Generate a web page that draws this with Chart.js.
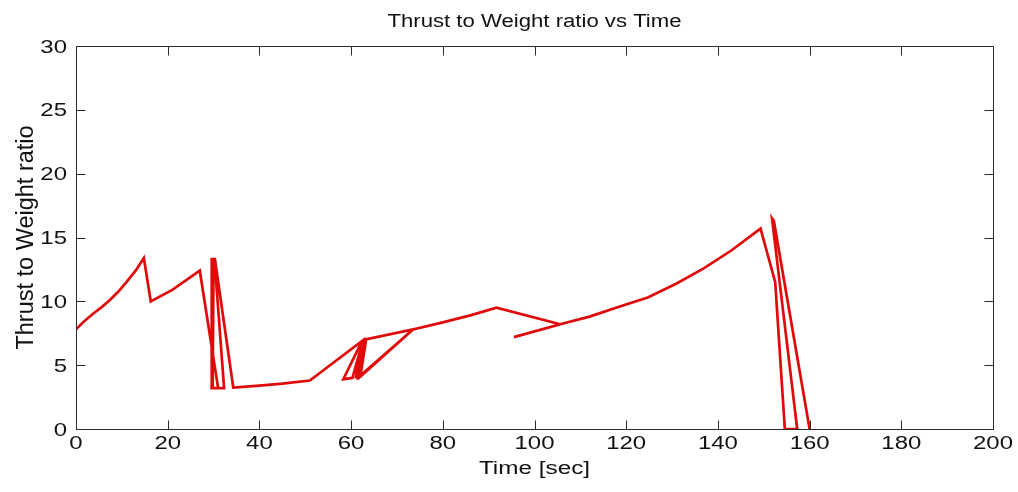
<!DOCTYPE html>
<html>
<head>
<meta charset="utf-8">
<title>Thrust to Weight ratio vs Time</title>
<script src="https://cdn.jsdelivr.net/npm/chart.js@4.4.1/dist/chart.umd.min.js"></script>
<style>
  html, body { margin: 0; padding: 0; background: #ffffff; }
  #wrap { width: 1018px; height: 492px; }
  canvas { display: block; }
</style>
</head>
<body>
<div id="wrap"><canvas id="twr" width="1018" height="492"></canvas></div>
<script>
// Flight trace: time (s) and thrust-to-weight ratio, in logged order
// (the time stamp steps back at staging events, so the trace folds over itself).
const timeSec = [
  0, 1.8, 3.8, 5.6, 7.4, 9.2, 11.0, 13.0, 14.8, 16.3, 21.0, 27.0,
  31.0, 29.6, 29.6, 30.2, 32.3, 29.8, 30.0, 30.3, 34.3, 40.0, 45.0, 51.0,
  62.4, 58.3, 60.3, 62.6, 61.0, 62.9, 73.5, 61.6, 63.3, 62.0, 73.5,
  80.0, 86.0, 91.7,
  105.6, 95.5, 105.6, 112.0, 118.6, 124.7, 131.0, 137.0, 143.0, 149.3,
  152.5, 154.6, 157.3, 151.8, 152.2, 160.0
];
const thrustToWeight = [
  7.8, 8.45, 9.05, 9.55, 10.1, 10.75, 11.5, 12.4, 13.4, 10.0, 10.9, 12.4,
  3.2, 3.2, 13.3, 13.3, 3.2, 3.2, 13.3, 13.3, 3.25, 3.4, 3.55, 3.8,
  6.9, 3.9, 4.0, 6.95, 3.95, 7.0, 7.8, 4.05, 7.05, 4.1, 7.8,
  8.35, 8.9, 9.5,
  8.2, 7.2, 8.2, 8.8, 9.6, 10.3, 11.4, 12.6, 14.0, 15.7,
  11.5, 0, 0, 16.5, 16.3, 0
];
const xTicks = [0, 20, 40, 60, 80, 100, 120, 140, 160, 180, 200];
const yTicks = [0, 5, 10, 15, 20, 25, 30];

const chartTitle = 'Thrust to Weight ratio vs Time';
const xTitle = 'Time [sec]';
const yTitle = 'Thrust to Weight ratio';

const FONT = '"Liberation Sans", Arial, Helvetica, sans-serif';
const INK = '#111111';

// Draw text stretched horizontally by sx around its anchor.
function wideText(ctx, txt, x, y, size, sx, align) {
  ctx.save();
  ctx.font = size + 'px ' + FONT;
  ctx.fillStyle = INK;
  ctx.textBaseline = 'alphabetic';
  ctx.translate(x, y);
  ctx.scale(sx, 1);
  ctx.textAlign = align;
  ctx.fillText(txt, 0, 0);
  ctx.restore();
}

// Boxed axes with inward ticks on all four sides, plus tick labels and titles.
const boxAxes = {
  id: 'boxAxes',
  afterDraw(chart) {
    const ctx = chart.ctx;
    const a = chart.chartArea;
    const xs = chart.scales.x, ys = chart.scales.y;
    const L = Math.round(a.left) + 0.5, R = Math.round(a.right) + 0.5;
    const T = Math.round(a.top) + 0.5, B = Math.round(a.bottom) + 0.5;
    const tick = 9;

    ctx.save();
    ctx.strokeStyle = '#2a2a2a';
    ctx.lineWidth = 1;
    ctx.beginPath();
    ctx.rect(L, T, R - L, B - T);
    xTicks.forEach(v => {
      const px = Math.round(xs.getPixelForValue(v)) + 0.5;
      ctx.moveTo(px, B); ctx.lineTo(px, B - tick);
      ctx.moveTo(px, T); ctx.lineTo(px, T + tick);
    });
    yTicks.forEach(v => {
      const py = Math.round(ys.getPixelForValue(v)) + 0.5;
      ctx.moveTo(L, py); ctx.lineTo(L + tick, py);
      ctx.moveTo(R, py); ctx.lineTo(R - tick, py);
    });
    ctx.stroke();
    ctx.restore();

    // tick labels
    xTicks.forEach(v => {
      wideText(ctx, String(v), xs.getPixelForValue(v), a.bottom + 20, 18, 1.33, 'center');
    });
    yTicks.forEach(v => {
      wideText(ctx, String(v), a.left - 9, ys.getPixelForValue(v) + 6.5, 18, 1.33, 'right');
    });

    // titles
    const cx = (a.left + a.right) / 2;
    wideText(ctx, chartTitle, cx, 27, 18, 1.23, 'center');
    wideText(ctx, xTitle, cx, a.bottom + 45, 18, 1.35, 'center');

    ctx.save();
    ctx.font = '23.5px ' + FONT;
    ctx.fillStyle = INK;
    ctx.textAlign = 'center';
    ctx.textBaseline = 'alphabetic';
    ctx.translate(33, (a.top + a.bottom) / 2);
    ctx.rotate(-Math.PI / 2);
    ctx.fillText(yTitle, 0, 0);
    ctx.restore();
  }
};

const points = timeSec.map((t, i) => ({ x: t, y: thrustToWeight[i] }));

new Chart(document.getElementById('twr'), {
  type: 'scatter',
  data: {
    datasets: [{
      data: points,
      showLine: true,
      borderColor: 'rgb(224, 10, 10)',
      borderWidth: 2.7,
      pointRadius: 0,
      pointHoverRadius: 0,
      tension: 0,
      fill: false,
      borderJoinStyle: 'miter'
    }]
  },
  options: {
    responsive: false,
    animation: false,
    events: [],
    layout: { padding: { left: 0, right: 25, top: 46, bottom: 0 } },
    plugins: { legend: { display: false }, tooltip: { enabled: false }, title: { display: false } },
    scales: {
      x: {
        type: 'linear', min: 0, max: 200,
        ticks: { display: false, stepSize: 20 },
        grid: { display: false },
        border: { display: false },
        afterFit(s) { s.height = 63; }
      },
      y: {
        type: 'linear', min: 0, max: 30,
        ticks: { display: false, stepSize: 5 },
        grid: { display: false },
        border: { display: false },
        afterFit(s) { s.width = 76; }
      }
    }
  },
  plugins: [boxAxes]
});
</script>
</body>
</html>
